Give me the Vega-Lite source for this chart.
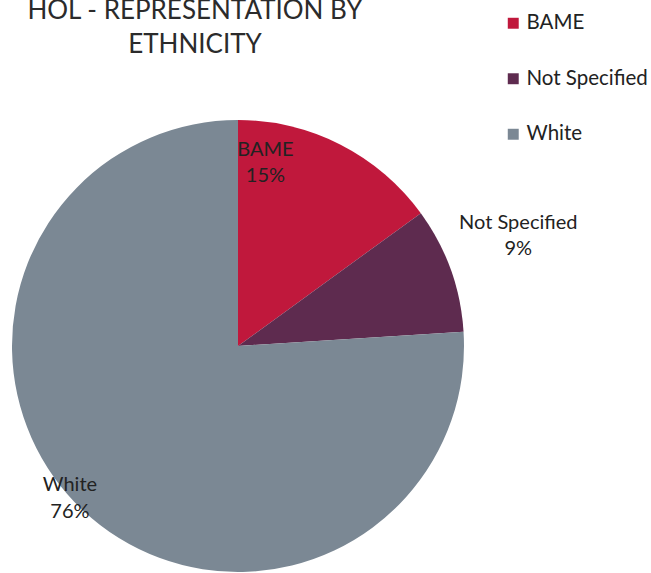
{
  "$schema": "https://vega.github.io/schema/vega-lite/v6.json",
  "width": 452,
  "height": 452,
  "autosize": {"type": "none"},
  "padding": {"left": 12, "top": 120, "right": 187, "bottom": 1},
  "background": "white",
  "config": {"view": {"stroke": null}, "font": "Lato"},
  "title": {
    "text": ["HOL - REPRESENTATION  BY", "ETHNICITY"],
    "anchor": "middle",
    "frame": "group",
    "dx": -43,
    "offset": -45,
    "fontSize": 26,
    "fontWeight": "normal",
    "font": "Lato",
    "color": "#2b2b2b",
    "lineHeight": 34
  },
  "data": {
    "values": [
      {"category": "BAME", "value": 15, "label": "BAME\n15%"},
      {"category": "Not Specified", "value": 9, "label": "Not Specified\n9%"},
      {"category": "White", "value": 76, "label": "White\n76%"}
    ]
  },
  "encoding": {
    "theta": {"field": "value", "type": "quantitative", "stack": true},
    "order": {"field": "category", "sort": "ascending"}
  },
  "layer": [
    {
      "mark": {"type": "arc", "outerRadius": 226},
      "encoding": {
        "color": {
          "field": "category",
          "type": "nominal",
          "scale": {"domain": ["BAME", "Not Specified", "White"], "range": ["#C0183C", "#5E2B4F", "#7B8894"]},
          "legend": {
            "orient": "none",
            "legendX": 491,
            "legendY": -107,
            "title": null,
            "symbolType": "square",
            "symbolSize": 120,
            "symbolStrokeWidth": 0,
            "labelFontSize": 20.5,
            "labelFont": "Lato",
            "labelColor": "#222222",
            "labelOffset": 3,
            "rowPadding": 34.5
          }
        }
      }
    },
    {
      "mark": {"type": "text", "radius": 186, "dx": -57, "dy": -30, "fontSize": 20, "lineBreak": "\n", "lineHeight": 26, "color": "#222222", "font": "Lato"},
      "encoding": {
        "text": {"condition": {"test": "datum.category === 'BAME'", "field": "label"}, "value": ""}
      }
    },
    {
      "mark": {"type": "text", "radius": 300, "dx": -2, "dy": -21, "fontSize": 20, "lineBreak": "\n", "lineHeight": 26, "color": "#222222", "font": "Lato"},
      "encoding": {
        "text": {"condition": {"test": "datum.category === 'Not Specified'", "field": "label"}, "value": ""}
      }
    },
    {
      "mark": {"type": "text", "radius": 225, "dx": -14, "dy": -25, "fontSize": 20, "lineBreak": "\n", "lineHeight": 27, "color": "#222222", "font": "Lato"},
      "encoding": {
        "text": {"condition": {"test": "datum.category === 'White'", "field": "label"}, "value": ""}
      }
    }
  ]
}
